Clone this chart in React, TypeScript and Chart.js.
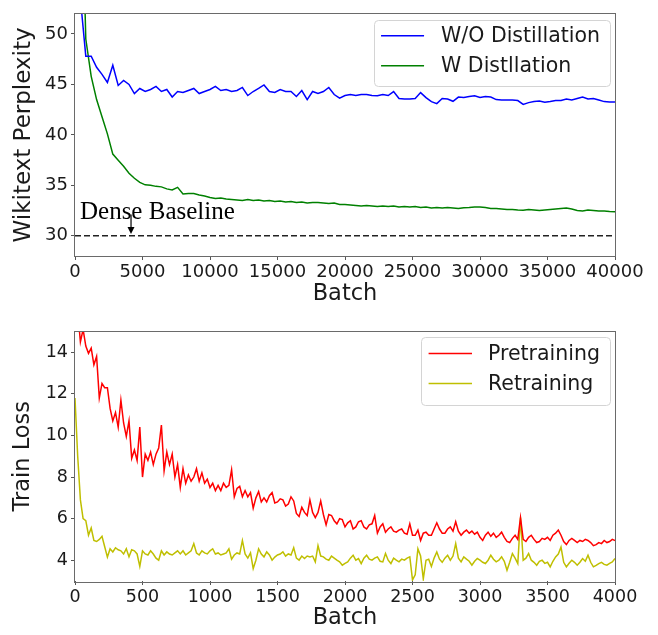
import React, { useEffect, useRef } from 'react';
import { Chart, registerables } from 'chart.js';

Chart.register(...registerables);

const FONT = "'DejaVu Sans', sans-serif";
const SERIF = "'Liberation Serif', 'Times New Roman', serif";

// ---------- Top chart data ----------
const topBatchStep = 400;
const woDistillation = [
  95, 53.5, 47.8, 47.8, 46.7, 46.0, 45.2, 46.9, 44.9, 45.4,
  45.0, 44.1, 44.6, 44.3, 44.5, 44.8, 44.3, 44.5, 43.75, 44.3,
  44.2, 44.4, 44.6, 44.1, 44.3, 44.5, 44.8, 44.4, 44.5, 44.3,
  44.4, 44.7, 43.9, 44.3, 44.6, 44.95, 44.3, 44.2, 44.5, 44.3,
  44.3, 43.8, 44.4, 43.5, 44.3, 44.1, 44.3, 44.7, 44.0, 43.65,
  43.9, 44.0, 43.9, 44.0, 44.0, 43.9, 43.87, 44.0, 43.9, 44.29,
  43.6, 43.55, 43.56, 43.6, 44.19, 43.7, 43.3, 43.1, 43.6, 43.55,
  43.33, 43.75, 43.7, 43.8, 43.87, 43.7, 43.8, 43.75, 43.5, 43.46,
  43.45, 43.46, 43.4, 43.02, 43.2, 43.3, 43.35, 43.24, 43.3, 43.4,
  43.4, 43.56, 43.45, 43.6, 43.75, 43.56, 43.6, 43.45, 43.3, 43.27,
  43.25,
];
const wDistillation = [
  100, 70, 49.5, 45.8, 43.5, 41.8, 40.1, 38.1, 37.5, 36.9,
  36.2, 35.7, 35.3, 35.05, 35.0, 34.9, 34.85, 34.65, 34.55, 34.8,
  34.15, 34.2, 34.2, 34.05, 33.95, 33.8, 33.7, 33.75, 33.65, 33.6,
  33.55, 33.5, 33.6, 33.5, 33.55, 33.45, 33.5, 33.4, 33.45, 33.35,
  33.4, 33.3, 33.35, 33.25, 33.3, 33.3, 33.25, 33.2, 33.25, 33.1,
  33.1, 33.05, 33.0, 32.95, 33.0, 32.95, 32.9, 32.95, 32.9, 32.95,
  32.85, 32.9, 32.85, 32.9, 32.8, 32.85, 32.75, 32.8, 32.75, 32.8,
  32.75, 32.7, 32.78, 32.8, 32.85, 32.85, 32.8, 32.7, 32.7, 32.65,
  32.6, 32.6, 32.55, 32.54, 32.6, 32.55, 32.5, 32.55, 32.6, 32.65,
  32.7, 32.76, 32.65, 32.5, 32.45, 32.55, 32.5, 32.45, 32.45, 32.4,
  32.38,
];
const denseBaseline = 30;
const topXRange = [0, 40000];
const topYRange = [28, 52];
const topXTicks = [0, 5000, 10000, 15000, 20000, 25000, 30000, 35000, 40000];
const topYTicks = [30, 35, 40, 45, 50];
const topLabels = ['W/O Distillation', 'W Distllation'];
const noteText = 'Dense Baseline';
const noteTextAt = [370, 31.71];
const noteArrowFrom = [4150, 32.1];
const noteArrowTo = [4150, 30.19];

// ---------- Bottom chart data ----------
const bottomBatchStep = 20;
const pretraining = [
  18.0, 16.0, 14.5, 15.1, 14.3, 13.95, 14.2, 13.4, 13.8, 11.8,
  12.5, 12.3, 12.3, 11.3, 10.7, 11.1, 10.4, 11.7, 10.6, 9.95,
  10.7, 8.9, 9.3, 8.8, 10.4, 8.0, 9.1, 8.8, 9.2, 8.6,
  9.1, 9.4, 10.5, 8.3, 9.2, 8.6, 9.1, 8.0, 8.6, 7.5,
  8.4, 7.7, 8.1, 7.8, 8.0, 8.4, 7.8, 8.2, 7.7, 7.9,
  7.5, 7.7, 7.35, 7.6, 7.35, 7.7, 7.5, 7.6, 8.35, 7.05,
  7.45, 7.55, 7.05, 7.35, 7.05, 7.25, 6.5, 7.0, 7.3, 6.8,
  7.0, 6.8, 7.1, 7.25, 6.75, 6.8, 6.95, 6.9, 6.6, 6.7,
  7.05, 6.85, 6.25, 6.1, 6.55, 6.3, 6.15, 6.9, 6.3, 6.05,
  6.3, 6.85, 6.2, 5.7, 6.2, 6.15, 5.9, 5.75, 6.0, 5.95,
  5.6, 5.8, 5.9, 5.5, 5.6, 5.85, 5.9, 5.6, 5.5, 5.7,
  5.75, 6.15, 5.3, 5.6, 5.75, 5.35, 5.5, 5.6, 5.4, 5.35,
  5.45, 5.5, 5.3, 5.25, 5.75, 5.2, 5.2, 5.45, 4.95, 5.3,
  5.35, 5.2, 5.2, 5.5, 5.8, 5.5, 5.3, 5.3, 5.5, 5.6,
  5.4, 5.85, 5.4, 5.2, 5.35, 5.45, 5.3, 5.4, 5.25, 5.35,
  5.1, 4.95, 5.2, 5.35, 5.15, 5.3, 5.1, 5.2, 5.35, 5.1,
  4.9, 4.85, 5.05, 5.2, 5.0, 6.05, 5.0, 4.9, 5.1, 5.2,
  5.0, 4.85, 4.9, 5.05, 5.0, 5.1, 4.95, 5.2, 5.3, 5.45,
  5.2, 4.9, 4.75, 4.95, 5.05, 4.95, 4.85, 4.95, 4.9, 5.0,
  4.95, 4.85, 4.7, 4.75, 4.85, 4.8, 4.95, 4.85, 4.9, 5.0,
  4.95,
];
const retraining = [
  11.8, 9.0, 6.9, 6.0, 5.9, 5.2, 5.55, 4.95, 4.9, 5.0,
  5.15, 4.65, 4.15, 4.55, 4.4, 4.6, 4.5, 4.45, 4.3, 4.55,
  4.16, 4.5, 4.45, 4.3, 3.7, 4.45, 4.3, 4.25, 4.45, 4.3,
  4.1, 4.0, 4.45, 4.25, 4.4, 4.3, 4.25, 4.35, 4.45, 4.3,
  4.45, 4.25, 4.35, 4.45, 4.8, 4.35, 4.25, 4.45, 4.35, 4.3,
  4.45, 4.55, 4.3, 4.35, 4.25, 4.3, 4.35, 4.55, 4.05, 4.25,
  4.35, 4.3, 4.95, 4.3, 4.1, 4.35, 3.6, 4.0, 4.55, 4.3,
  4.16, 4.4, 4.25, 4.0, 4.15, 4.25, 4.3, 4.4, 4.2, 4.3,
  4.25, 4.6, 4.1, 4.0, 4.2, 4.08, 4.2, 4.16, 4.2, 3.92,
  4.7, 4.2, 4.16, 4.05, 4.0, 4.2, 4.1, 4.0, 3.92, 3.76,
  3.85, 3.92, 4.1, 4.24, 4.0, 4.08, 3.84, 4.1, 4.24, 4.05,
  4.0, 4.1, 4.16, 3.95, 3.92, 4.32, 4.0, 3.84, 4.1, 4.0,
  3.92, 4.05, 4.0, 4.1, 4.16, 3.05, 3.3, 4.55, 4.2, 3.1,
  4.0, 4.05, 3.7, 4.1, 4.4, 4.05, 3.9, 4.1, 4.24, 4.0,
  4.2, 4.8, 4.1, 3.92, 4.16, 4.05, 3.95, 3.76, 3.95, 4.08,
  4.0, 3.9, 3.84, 4.0, 4.24, 4.05, 3.92, 4.0, 4.16, 3.95,
  3.52, 3.9, 4.32, 4.1, 3.84, 6.05, 4.0, 4.1, 4.32, 4.0,
  3.9, 3.76, 3.95, 4.0, 3.85, 3.9, 3.68, 3.95, 4.16, 4.3,
  4.63, 3.9, 3.68, 3.85, 4.0, 3.9, 3.76, 3.9, 4.08, 3.95,
  4.24, 3.9, 3.68, 3.75, 3.84, 3.9, 3.8, 3.76, 3.85, 3.92,
  4.08,
];
const bottomXRange = [0, 4000];
const bottomYRange = [3, 15];
const bottomXTicks = [0, 500, 1000, 1500, 2000, 2500, 3000, 3500, 4000];
const bottomYTicks = [4, 6, 8, 10, 12, 14];
const bottomLabels = ['Pretraining', 'Retraining'];

const toPoints = (vals: number[], step: number) => vals.map((v, i) => ({ x: i * step, y: v }));

const framePlugin = {
  id: 'frame',
  afterDraw(chart: any) {
    const { ctx, chartArea: a } = chart;
    ctx.save();
    ctx.strokeStyle = '#6a6a6a';
    ctx.lineWidth = 1;
    ctx.strokeRect(Math.round(a.left) - 0.5, Math.round(a.top) - 0.5, Math.round(a.right - a.left) + 1, Math.round(a.bottom - a.top) + 1);
    ctx.restore();
  },
};

const insetLegend = {
  id: 'insetLegend',
  afterDatasetsDraw(chart: any, _args: any, opts: any) {
    if (!opts || !opts.enabled) return;
    const { ctx, chartArea: a } = chart;
    const items = chart.data.datasets.filter((d: any) => d.label && !d.noLegend);
    ctx.save();
    ctx.font = `${opts.fontSize}px ${FONT}`;
    const textW = Math.max(...items.map((d: any) => ctx.measureText(d.label).width));
    const w = opts.padLeft + opts.lineLen + opts.gap + textW + opts.padRight;
    const h = opts.height;
    const x = a.right - opts.right - w;
    const y = a.top + opts.top;
    ctx.beginPath();
    (ctx as any).roundRect(Math.round(x) + 0.5, Math.round(y) + 0.5, Math.round(w), Math.round(h), 4);
    ctx.fillStyle = 'rgba(255,255,255,0.85)';
    ctx.fill();
    ctx.strokeStyle = '#d4d4d4';
    ctx.lineWidth = 1;
    ctx.stroke();
    items.forEach((d: any, i: number) => {
      const ly = y + opts.firstRow + i * opts.rowGap;
      ctx.strokeStyle = d.borderColor;
      ctx.lineWidth = 1.5;
      ctx.beginPath();
      ctx.moveTo(x + opts.padLeft, ly);
      ctx.lineTo(x + opts.padLeft + opts.lineLen, ly);
      ctx.stroke();
      ctx.fillStyle = '#1a1a1a';
      ctx.textAlign = 'left';
      ctx.textBaseline = 'middle';
      ctx.fillText(d.label, x + opts.padLeft + opts.lineLen + opts.gap, ly + 1);
    });
    ctx.restore();
  },
};

const notePlugin = {
  id: 'note',
  afterDatasetsDraw(chart: any, _args: any, opts: any) {
    if (!opts || !opts.text) return;
    const { ctx } = chart;
    const xs = chart.scales.x;
    const ys = chart.scales.y;
    const tx = xs.getPixelForValue(opts.textAt[0]);
    const ty = ys.getPixelForValue(opts.textAt[1]);
    const ax = xs.getPixelForValue(opts.arrowFrom[0]);
    const ay0 = ys.getPixelForValue(opts.arrowFrom[1]);
    const ay1 = ys.getPixelForValue(opts.arrowTo[1]);
    ctx.save();
    ctx.font = `25px ${SERIF}`;
    ctx.fillStyle = '#000';
    ctx.textAlign = 'left';
    ctx.textBaseline = 'alphabetic';
    ctx.fillText(opts.text, tx, ty);
    ctx.strokeStyle = '#000';
    ctx.lineWidth = 1.2;
    ctx.beginPath();
    ctx.moveTo(ax, ay0);
    ctx.lineTo(ax, ay1 - 6);
    ctx.stroke();
    ctx.beginPath();
    ctx.moveTo(ax - 3.5, ay1 - 7);
    ctx.lineTo(ax + 3.5, ay1 - 7);
    ctx.lineTo(ax, ay1);
    ctx.closePath();
    ctx.fillStyle = '#000';
    ctx.fill();
    ctx.restore();
  },
};

function axisX(range: number[], ticks: number[], height: number, titlePadBottom: number, tickFont: number) {
  return {
    type: 'linear',
    min: range[0],
    max: range[1],
    afterBuildTicks: (s: any) => { s.ticks = ticks.map((v) => ({ value: v })); },
    afterFit: (s: any) => { s.height = height; },
    ticks: { autoSkip: false, maxRotation: 0, minRotation: 0, padding: 2, color: '#1a1a1a', font: { family: FONT, size: tickFont }, callback: (v: any) => String(v) },
    grid: { display: true, drawOnChartArea: false, drawTicks: true, tickLength: 4, tickColor: '#555', tickWidth: 1 },
    border: { display: false },
    title: { display: true, text: 'Batch', color: '#1a1a1a', font: { family: FONT, size: 22.5 }, padding: { top: 0, bottom: titlePadBottom } },
  };
}

function axisY(range: number[], ticks: number[], title: string, tickFont: number, titleFont: number) {
  return {
    type: 'linear',
    min: range[0],
    max: range[1],
    afterBuildTicks: (s: any) => { s.ticks = ticks.map((v) => ({ value: v })); },
    afterFit: (s: any) => { s.width = 75; },
    ticks: { padding: 3, color: '#1a1a1a', font: { family: FONT, size: tickFont }, callback: (v: any) => String(v) },
    grid: { display: true, drawOnChartArea: false, drawTicks: true, tickLength: 4, tickColor: '#555', tickWidth: 1 },
    border: { display: false },
    title: { display: true, text: title, color: '#1a1a1a', font: { family: FONT, size: titleFont }, padding: { top: 10, bottom: 0 } },
  };
}

export default function App() {
  const topRef = useRef<HTMLCanvasElement | null>(null);
  const botRef = useRef<HTMLCanvasElement | null>(null);

  useEffect(() => {
    const top = new Chart(topRef.current as HTMLCanvasElement, {
      type: 'line',
      data: {
        datasets: [
          { label: topLabels[0], data: toPoints(woDistillation, topBatchStep), borderColor: '#0000ff', borderWidth: 1.5, pointRadius: 0, tension: 0 },
          { label: topLabels[1], data: toPoints(wDistillation, topBatchStep), borderColor: '#008000', borderWidth: 1.5, pointRadius: 0, tension: 0 },
          { label: 'baseline', noLegend: true, data: [{ x: topXRange[0], y: denseBaseline }, { x: topXRange[1], y: denseBaseline }], borderColor: '#222', borderWidth: 1.5, borderDash: [6, 3], pointRadius: 0 } as any,
        ],
      },
      options: {
        responsive: false,
        animation: false,
        events: [],
        layout: { padding: { top: 4, right: 43, left: 0, bottom: 0 } },
        scales: { x: axisX(topXRange, topXTicks, 62, 10, 18) as any, y: axisY(topYRange, topYTicks, 'Wikitext Perplexity', 18, 23) as any },
        plugins: {
          legend: { display: false },
          tooltip: { enabled: false },
          insetLegend: { enabled: true, fontSize: 20.5, padLeft: 7.3, lineLen: 43, gap: 17, padRight: 10, height: 66, right: 5, top: 6, firstRow: 16, rowGap: 30 },
          note: { text: noteText, textAt: noteTextAt, arrowFrom: noteArrowFrom, arrowTo: noteArrowTo },
        } as any,
      },
      plugins: [framePlugin, insetLegend, notePlugin],
    });

    const bot = new Chart(botRef.current as HTMLCanvasElement, {
      type: 'line',
      data: {
        datasets: [
          { label: bottomLabels[0], data: toPoints(pretraining, bottomBatchStep), borderColor: '#ff0000', borderWidth: 1.5, pointRadius: 0, tension: 0 },
          { label: bottomLabels[1], data: toPoints(retraining, bottomBatchStep), borderColor: '#bfbf00', borderWidth: 1.5, pointRadius: 0, tension: 0 },
        ],
      },
      options: {
        responsive: false,
        animation: false,
        events: [],
        layout: { padding: { top: 11, right: 43, left: 0, bottom: 0 } },
        scales: { x: axisX(bottomXRange, bottomXTicks, 54, 3, 17.5) as any, y: axisY(bottomYRange, bottomYTicks, 'Train Loss', 17.5, 22.5) as any },
        plugins: {
          legend: { display: false },
          tooltip: { enabled: false },
          insetLegend: { enabled: true, fontSize: 20.5, padLeft: 7.6, lineLen: 43.4, gap: 16, padRight: 10, height: 68, right: 5, top: 5.3, firstRow: 16.7, rowGap: 30 },
        } as any,
      },
      plugins: [framePlugin, insetLegend],
    });

    return () => { top.destroy(); bot.destroy(); };
  }, []);

  return (
    <div style={{ position: 'fixed', left: 0, top: 0, width: 658, height: 635, background: '#fff' }}>
      <canvas ref={topRef} width={658} height={318} style={{ display: 'block', position: 'absolute', left: 0, top: 0 }} />
      <canvas ref={botRef} width={658} height={317} style={{ display: 'block', position: 'absolute', left: 0, top: 318 }} />
    </div>
  );
}
